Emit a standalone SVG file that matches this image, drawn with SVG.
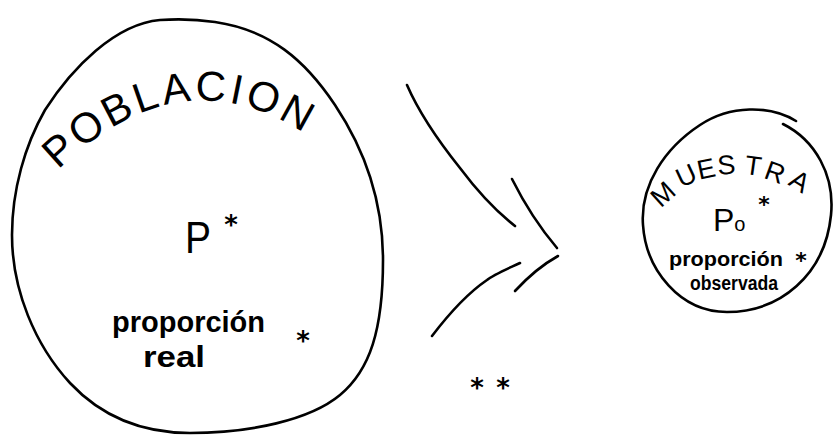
<svg xmlns="http://www.w3.org/2000/svg" width="836" height="445" viewBox="0 0 836 445">
<style>
.stroke{fill:none;stroke:#000;stroke-width:2.6;stroke-linecap:round;stroke-linejoin:round}
.hand{font-family:"Liberation Sans","DejaVu Sans",sans-serif;fill:#000}
.mu{font-family:"Liberation Sans","DejaVu Sans",sans-serif;fill:#000;font-size:27px;text-anchor:middle}
.ast{font-family:"DejaVu Sans",sans-serif;font-weight:bold;fill:#000;text-anchor:middle}
</style>
<defs>
<path id="arcPob" d="M 58,170 Q 190,42 328,150"/>
</defs>
<rect width="836" height="445" fill="#fff"/>
<g id="poblacion">
<path class="stroke" d="M 160,20 C 115,24 72,68 45,110 C 25,145 12,190 12,235 C 12,290 35,345 70,383 C 100,415 140,433 190,433 C 250,433 310,420 340,395 C 370,370 383,330 383,260 C 383,200 365,150 335,105 C 305,60 270,30 215,22 C 195,19 175,19 160,20 Z"/>
<text class="hand" font-size="42"><textPath href="#arcPob" textLength="272" lengthAdjust="spacing">POBLACION</textPath></text>
<text class="hand" x="185" y="253" font-size="44" textLength="26" lengthAdjust="spacingAndGlyphs">P</text>
<text class="ast" x="231" y="234" font-size="26">*</text>
<text class="hand" x="112" y="332" font-size="29" font-weight="bold">proporción</text>
<text class="hand" x="143" y="367" font-size="29" font-weight="bold" textLength="62" lengthAdjust="spacingAndGlyphs">real</text>
<text class="ast" x="303" y="350" font-size="26">*</text>
</g>
<g id="muestra">
<path class="stroke" d="M 796,121 C 770,105 730,105 700,125 C 665,148 640,185 643,225 C 646,270 680,312 727,312 C 780,312 825,275 831,215 C 835,175 815,140 783,124"/>
<text class="mu" transform="translate(669,201) rotate(-42)">M</text>
<text class="mu" transform="translate(690,184) rotate(-25)">U</text>
<text class="mu" transform="translate(708,178) rotate(-12)">E</text>
<text class="mu" transform="translate(727,174) rotate(-4)">S</text>
<text class="mu" transform="translate(752,175) rotate(8)">T</text>
<text class="mu" transform="translate(772,181) rotate(20)">R</text>
<text class="mu" transform="translate(795,189) rotate(32)">A</text>
<text class="hand" x="713" y="231" font-size="32">P<tspan font-size="20">o</tspan></text>
<text class="ast" x="764" y="212" font-size="22">*</text>
<text class="hand" x="669" y="266" font-size="20" font-weight="bold" textLength="114" lengthAdjust="spacingAndGlyphs">proporción</text>
<text class="ast" x="801" y="268" font-size="22">*</text>
<text class="hand" x="690" y="290" font-size="20" font-weight="bold" textLength="88" lengthAdjust="spacingAndGlyphs">observada</text>
</g>
<g id="connectors">
<path class="stroke" stroke-width="3" d="M 407,85 C 420,115 440,143 460,168 C 478,192 497,212 515,226"/>
<path class="stroke" stroke-width="3" d="M 512,179 C 525,205 540,228 557,248"/>
<path class="stroke" stroke-width="3.5" d="M 558,256 C 540,266 527,278 515,291"/>
<path class="stroke" stroke-width="3" d="M 520,263 C 505,270 493,275 487,280 C 465,295 448,315 432,336"/>
<text class="ast" x="477" y="397" font-size="26">*</text>
<text class="ast" x="503" y="397" font-size="26">*</text>
</g>
</svg>
